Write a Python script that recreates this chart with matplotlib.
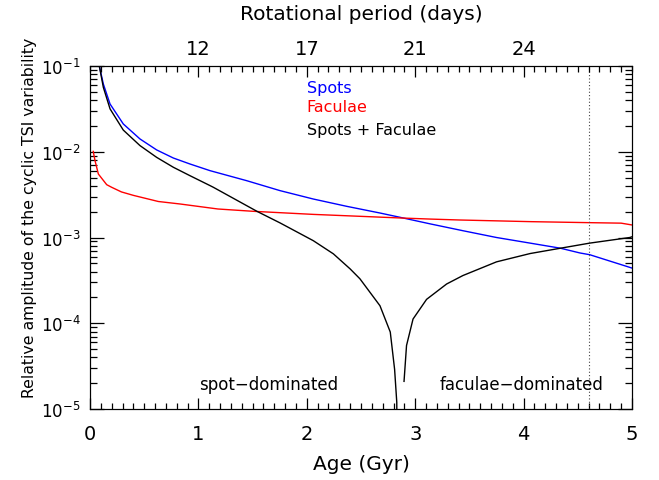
import matplotlib
matplotlib.use("Agg")
import matplotlib.pyplot as plt
from matplotlib.ticker import MultipleLocator, FixedLocator, LogLocator, NullFormatter

plt.rcParams['font.family'] = ['DejaVu Sans']
plt.rcParams['mathtext.fontset'] = 'dejavusans'

# ---- data ----
spots_age = [0.086, 0.123, 0.185, 0.307, 0.461, 0.615, 0.769, 0.922, 1.107, 1.445, 1.753,
             2.06, 2.368, 2.675, 2.86, 3.14, 3.44, 3.75, 4.06, 4.34, 4.52, 4.61, 5.0]
spots_val = [0.1, 0.0617, 0.036, 0.0211, 0.0141, 0.0105, 0.00845, 0.0072, 0.00602, 0.00460,
             0.00352, 0.00281, 0.00231, 0.00193, 0.00172, 0.00144, 0.00120, 0.00100, 0.00086,
             0.00075, 0.00066, 0.00063, 0.00044]

fac_age = [0.03, 0.046, 0.077, 0.154, 0.2, 0.29, 0.4, 0.63, 0.83, 1.18, 1.507,
           2.06, 2.86, 3.14, 3.41, 4.07, 4.6, 4.9, 5.0]
fac_val = [0.0101, 0.0079, 0.0055, 0.00413, 0.00385, 0.0034, 0.0031, 0.00263, 0.00246, 0.00215,
           0.00202, 0.00186, 0.00169, 0.00164, 0.00160, 0.00153, 0.00149, 0.00147, 0.00140]

sum_left_age = [0.086, 0.123, 0.185, 0.307, 0.461, 0.615, 0.769, 0.922, 1.107, 1.138, 1.54,
                1.753, 2.06, 2.245, 2.40, 2.49, 2.675, 2.77, 2.81, 2.83, 2.835]
sum_left_val = [0.1, 0.0564, 0.0316, 0.0179, 0.0118, 0.0086, 0.00659, 0.00526, 0.00403, 0.00385,
                0.00202, 0.00148, 0.000918, 0.000645, 0.00043, 0.00033, 1.6e-4, 7.9e-5, 2.9e-5,
                1.2e-5, 1e-6]

sum_right_age = [2.897, 2.92, 2.98, 3.105, 3.29, 3.44, 3.75, 4.06, 4.34, 4.61, 4.98, 5.0]
sum_right_val = [2.1e-5, 5.5e-5, 1.12e-4, 1.9e-4, 2.87e-4, 3.6e-4, 5.2e-4, 6.5e-4, 7.5e-4,
                 8.6e-4, 1.0e-3, 1.02e-3]

sun_age = 4.6
top_tick_pos = [1, 2, 3, 4]
top_tick_labels = ['12', '17', '21', '24']

# ---- figure ----
fig = plt.figure(figsize=(6.59, 4.81), dpi=100)
ax = fig.add_axes([90/659, 1-410/481, (632-90)/659, (410-67)/481])

lw = 1.0
ax.plot(spots_age, spots_val, color='#0000ff', lw=lw)
ax.plot(fac_age, fac_val, color='#ff0000', lw=lw)
ax.plot(sum_left_age, sum_left_val, color='black', lw=lw)
ax.plot(sum_right_age, sum_right_val, color='black', lw=lw)
ax.axvline(sun_age, color='#444444', lw=0.8, ls=(0, (1, 2)))

ax.set_yscale('log')
ax.set_xlim(0, 5)
ax.set_ylim(1e-5, 1e-1)
ax.yaxis.set_minor_locator(LogLocator(base=10, subs=range(2, 10)))
ax.yaxis.set_minor_formatter(NullFormatter())
ax.xaxis.set_major_locator(MultipleLocator(1))
ax.xaxis.set_minor_locator(MultipleLocator(0.1))
ax.tick_params(which='both', direction='in', top=False, right=True, width=0.9)
ax.tick_params(axis='x', which='major', length=8, pad=11, labelsize=14)
ax.tick_params(axis='x', which='minor', length=4)
ax.tick_params(axis='y', which='major', length=10, pad=7, labelsize=12)
ax.tick_params(axis='y', which='minor', length=5)
ax.set_xlabel('Age (Gyr)', fontsize=14.5, labelpad=8)
ax.set_ylabel('Relative amplitude of the cyclic TSI variability', fontsize=11.3)
ax.yaxis.set_label_coords(-0.098, 0.56)

ax2 = ax.twiny()
ax2.set_xlim(0, 5)
ax2.xaxis.set_major_locator(FixedLocator(top_tick_pos))
ax2.set_xticklabels(top_tick_labels)
ax2.xaxis.set_minor_locator(MultipleLocator(0.1))
ax2.tick_params(which='both', direction='in', width=0.9)
ax2.tick_params(which='major', length=8, pad=6, labelsize=14)
ax2.tick_params(which='minor', length=4)
ax2.set_xlabel('Rotational period (days)', fontsize=14.5, labelpad=14)

ax.text(2.0, 10**-1.245, 'Spots', color='#0000ff', fontsize=11.5, va='center', ha='left')
ax.text(2.0, 10**-1.478, 'Faculae', color='#ff0000', fontsize=11.5, va='center', ha='left')
ax.text(2.0, 10**-1.735, 'Spots + Faculae', color='black', fontsize=11.5, va='center', ha='left')
ax.text(1.65, 10**-4.71, 'spot\u2212dominated', fontsize=12, ha='center', va='center')
ax.text(3.98, 10**-4.71, 'faculae\u2212dominated', fontsize=12, ha='center', va='center')

fig.savefig('out.png', dpi=100)
